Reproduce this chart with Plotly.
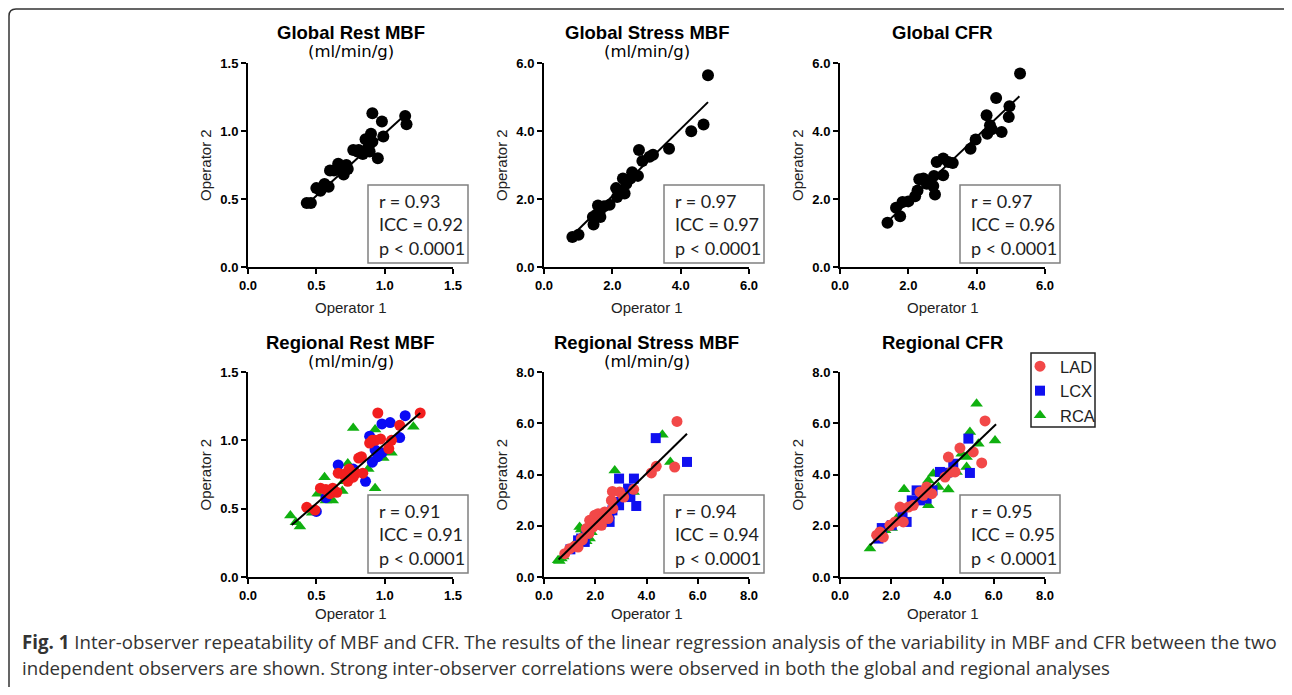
import plotly.graph_objects as go

W, H = 1292, 695          # target picture size
PAGE_MARGIN = 8           # default body margin of the html page
FW, FH = W - 2 * PAGE_MARGIN, H - 2 * PAGE_MARGIN

# ---------------- data ----------------
# Global Rest MBF (ml/min/g)
g_rest_x = [0.43, 0.46, 0.50, 0.53, 0.54, 0.56, 0.59, 0.60, 0.63, 0.65, 0.66, 0.69, 0.70, 0.72, 0.73,
            0.77, 0.80, 0.81, 0.84, 0.86, 0.88, 0.89, 0.90, 0.91, 0.91, 0.95, 0.98, 0.99, 1.15, 1.16]
g_rest_y = [0.47, 0.47, 0.58, 0.56, 0.58, 0.61, 0.59, 0.71, 0.71, 0.72, 0.76, 0.72, 0.68, 0.75, 0.72,
            0.86, 0.85, 0.86, 0.83, 0.94, 0.88, 0.85, 0.98, 0.92, 1.13, 0.80, 1.07, 0.96, 1.11, 1.05]
g_rest_fit_x = [0.42, 1.15]
g_rest_fit_y = [0.45, 1.12]

# Global Stress MBF (ml/min/g)
g_stress_x = [0.83, 1.01, 1.43, 1.45, 1.53, 1.58, 1.63, 1.65, 1.76, 1.92, 2.11, 2.14, 2.21, 2.36, 2.31,
              2.41, 2.53, 2.58, 2.75, 2.78, 2.88, 3.09, 3.19, 3.66, 4.31, 4.67, 4.80]
g_stress_y = [0.88, 0.95, 1.47, 1.25, 1.54, 1.81, 1.62, 1.47, 1.79, 1.83, 2.32, 2.06, 2.23, 2.16, 2.60,
              2.45, 2.60, 2.79, 2.68, 3.44, 3.12, 3.24, 3.30, 3.48, 3.99, 4.19, 5.64]
g_stress_fit_x = [0.88, 4.80]
g_stress_fit_y = [0.98, 4.85]

# Global CFR
g_cfr_x = [1.39, 1.64, 1.76, 1.83, 2.00, 2.20, 2.27, 2.32, 2.44, 2.54, 2.73, 2.78, 2.75, 2.83, 3.02,
           3.02, 3.17, 3.30, 3.82, 3.97, 4.29, 4.31, 4.39, 4.44, 4.57, 4.73, 4.96, 4.94, 5.27]
g_cfr_y = [1.30, 1.74, 1.49, 1.91, 1.93, 2.08, 2.25, 2.58, 2.60, 2.45, 2.38, 2.13, 2.68, 3.09, 3.19,
           2.70, 3.09, 3.06, 3.48, 3.75, 4.46, 3.92, 4.17, 4.05, 4.97, 3.97, 4.73, 4.41, 5.69]
g_cfr_fit_x = [1.46, 5.25]
g_cfr_fit_y = [1.40, 5.02]

# Regional Rest MBF
r_rest_lad_x = [0.43, 0.49, 0.53, 0.57, 0.60, 0.62, 0.65, 0.66, 0.70, 0.72, 0.73, 0.74, 0.77, 0.79,
                0.81, 0.83, 0.84, 0.89, 0.91, 0.93, 0.95, 0.97, 1.03, 1.05, 1.11, 1.26]
r_rest_lad_y = [0.51, 0.49, 0.65, 0.64, 0.61, 0.65, 0.62, 0.76, 0.75, 0.76, 0.70, 0.79, 0.73, 0.76,
                0.87, 0.88, 0.76, 0.98, 1.00, 1.00, 1.20, 1.01, 0.94, 1.00, 1.11, 1.20]
r_rest_lcx_x = [0.50, 0.57, 0.66, 0.72, 0.77, 0.86, 0.89, 0.91, 0.93, 0.95, 0.98, 0.98, 1.04, 1.11, 1.15]
r_rest_lcx_y = [0.48, 0.58, 0.82, 0.75, 0.79, 0.70, 1.03, 0.84, 0.93, 0.88, 1.12, 0.91, 1.13, 1.02, 1.18]
r_rest_rca_x = [0.31, 0.35, 0.38, 0.47, 0.51, 0.56, 0.57, 0.62, 0.69, 0.70, 0.73, 0.77, 0.88, 0.93,
                0.93, 0.99, 1.05, 1.21]
r_rest_rca_y = [0.45, 0.40, 0.37, 0.47, 0.61, 0.73, 0.56, 0.56, 0.63, 0.70, 0.83, 1.09, 0.79, 1.08,
                0.65, 0.87, 0.91, 1.10]
r_rest_fit_x = [0.32, 1.26]
r_rest_fit_y = [0.38, 1.20]

# Regional Stress MBF
r_stress_lad_x = [0.81, 1.00, 1.20, 1.33, 1.46, 1.50, 1.65, 1.75, 1.78, 1.91, 1.98, 2.00, 2.11, 2.24,
                  2.30, 2.37, 2.45, 2.50, 2.63, 2.67, 2.69, 2.95, 3.11, 3.50, 4.19, 4.38, 5.10, 5.19]
r_stress_lad_y = [0.91, 1.10, 1.20, 1.17, 1.50, 1.45, 1.89, 1.70, 2.21, 1.95, 2.41, 2.10, 2.47, 2.02,
                  2.35, 2.54, 2.50, 2.28, 2.99, 3.34, 2.67, 3.32, 3.12, 3.42, 4.06, 4.32, 4.29, 6.07]
r_stress_lcx_x = [1.03, 1.33, 1.45, 1.55, 1.59, 1.65, 2.20, 2.40, 2.55, 2.56, 2.67, 2.82, 2.93, 2.93,
                  3.28, 3.37, 3.51, 3.60, 4.36, 5.58]
r_stress_lcx_y = [1.08, 1.43, 1.50, 1.45, 1.37, 1.69, 2.05, 2.30, 2.45, 2.15, 2.60, 2.93, 2.80, 3.84,
                  3.45, 3.12, 3.84, 2.77, 5.42, 4.49]
r_stress_rca_x = [0.55, 0.60, 0.68, 0.75, 1.20, 1.39, 1.45, 1.52, 1.55, 1.65, 1.78, 1.85, 2.05, 2.76,
                  3.50, 4.62, 4.93]
r_stress_rca_y = [0.65, 0.62, 0.72, 0.80, 1.30, 1.95, 1.85, 1.30, 1.70, 1.40, 1.50, 1.75, 2.00, 4.16,
                  3.32, 5.55, 4.49]
r_stress_fit_x = [0.57, 5.58]
r_stress_fit_y = [0.68, 5.59]

# Regional CFR
r_cfr_lad_x = [1.43, 1.56, 1.69, 1.95, 2.15, 2.34, 2.47, 2.67, 2.86, 3.12, 3.25, 3.38, 3.58, 4.10,
               4.23, 4.36, 4.49, 4.68, 5.20, 5.53, 5.66]
r_cfr_lad_y = [1.63, 1.76, 1.56, 2.02, 2.15, 2.73, 2.15, 2.73, 2.80, 3.32, 3.19, 3.51, 3.25, 3.90,
               4.68, 4.10, 4.10, 5.03, 4.88, 4.45, 6.09]
r_cfr_lcx_x = [1.50, 1.63, 2.02, 2.44, 2.60, 2.80, 2.99, 3.12, 3.38, 3.61, 3.90, 4.16, 4.42, 5.01, 5.07]
r_cfr_lcx_y = [1.50, 1.91, 2.02, 2.41, 2.15, 2.99, 3.38, 2.99, 3.06, 3.38, 4.10, 4.07, 4.42, 5.40, 4.06]
r_cfr_rca_x = [1.17, 1.76, 2.02, 2.21, 2.50, 3.45, 3.45, 3.64, 3.84, 4.06, 4.23, 4.55, 4.75, 4.94,
               4.94, 5.07, 5.33, 5.40, 6.05]
r_cfr_rca_y = [1.11, 1.82, 1.91, 2.28, 3.42, 3.77, 2.80, 4.03, 3.51, 4.03, 3.41, 4.10, 4.81, 4.29,
               4.68, 5.66, 6.76, 5.20, 5.33]
r_cfr_fit_x = [1.17, 6.09]
r_cfr_fit_y = [1.24, 5.96]

panel_titles = ["Global Rest MBF", "Global Stress MBF", "Global CFR",
                "Regional Rest MBF", "Regional Stress MBF", "Regional CFR"]
panel_units = ["(ml/min/g)", "(ml/min/g)", "", "(ml/min/g)", "(ml/min/g)", ""]
axis_max = [1.5, 6.0, 6.0, 1.5, 8.0, 8.0]
axis_dtick = [0.5, 2.0, 2.0, 0.5, 2.0, 2.0]
stats_r = ["0.93", "0.97", "0.97", "0.91", "0.94", "0.95"]
stats_icc = ["0.92", "0.97", "0.96", "0.91", "0.94", "0.95"]
stats_p = ["0.0001"] * 6
artery_names = ["LAD", "LCX", "RCA"]
x_title = "Operator 1"
y_title = "Operator 2"
caption_1 = ("<b>Fig. 1</b> Inter-observer repeatability of MBF and CFR. The results of the linear "
             "regression analysis of the variability in MBF and CFR between the two")
caption_2 = ("independent observers are shown. Strong inter-observer correlations were observed in "
             "both the global and regional analyses")

# ---------------- layout helpers (picture pixels -> paper fraction) ----------------
def px(x):
    return (x - PAGE_MARGIN) / FW


def py(y):
    return 1 - (y - PAGE_MARGIN) / FH


col_px = [(248, 453), (544, 749), (840, 1045)]
row_px = [(63, 267), (372, 577)]
xtitle_gap = [40, 36]

fig = go.Figure()

global_sets = [(g_rest_x, g_rest_y, g_rest_fit_x, g_rest_fit_y),
               (g_stress_x, g_stress_y, g_stress_fit_x, g_stress_fit_y),
               (g_cfr_x, g_cfr_y, g_cfr_fit_x, g_cfr_fit_y)]
regional_sets = [
    ([(r_rest_lad_x, r_rest_lad_y), (r_rest_lcx_x, r_rest_lcx_y), (r_rest_rca_x, r_rest_rca_y)],
     r_rest_fit_x, r_rest_fit_y),
    ([(r_stress_lad_x, r_stress_lad_y), (r_stress_lcx_x, r_stress_lcx_y), (r_stress_rca_x, r_stress_rca_y)],
     r_stress_fit_x, r_stress_fit_y),
    ([(r_cfr_lad_x, r_cfr_lad_y), (r_cfr_lcx_x, r_cfr_lcx_y), (r_cfr_rca_x, r_cfr_rca_y)],
     r_cfr_fit_x, r_cfr_fit_y),
]

colors = {"LAD": "#F24848", "LCX": "#1010F0", "RCA": "#10B010"}
symbols = {"LAD": "circle", "LCX": "square", "RCA": "triangle-up"}
sizes = {"LAD": 11, "LCX": 10, "RCA": 11}

# global panels
for i, (xs, ys, fx, fy) in enumerate(global_sets):
    ax = str(i + 1)
    fig.add_trace(go.Scatter(x=xs, y=ys, mode="markers", xaxis="x" + ax, yaxis="y" + ax,
                             marker=dict(color="black", size=12, symbol="circle"), showlegend=False))
    fig.add_trace(go.Scatter(x=fx, y=fy, mode="lines", xaxis="x" + ax, yaxis="y" + ax,
                             line=dict(color="black", width=2), showlegend=False))

# regional panels
for i, (series, fx, fy) in enumerate(regional_sets):
    ax = str(i + 4)
    for k in [2, 1, 0]:
        name = artery_names[k]
        xs, ys = series[k]
        sym = symbols[name]
        col = colors[name]
        if i == 0 and name == "LCX":
            sym = "circle"
            col = "#0A0AF5"
        if i == 0 and name == "LAD":
            col = "#F21E1E"
        fig.add_trace(go.Scatter(x=xs, y=ys, mode="markers", name=name, xaxis="x" + ax, yaxis="y" + ax,
                                 legendgroup=name, legendrank=k + 1, showlegend=(i == 2),
                                 marker=dict(color=col, size=sizes[name] if sym != "circle" else 11,
                                             symbol=sym)))
    fig.add_trace(go.Scatter(x=fx, y=fy, mode="lines", xaxis="x" + ax, yaxis="y" + ax,
                             line=dict(color="black", width=2), showlegend=False))

tick_font = dict(family="Liberation Sans, Arial, sans-serif", size=13, color="black", weight="bold")
layout = {}
annotations = []
shapes = []
for idx in range(6):
    r, c = divmod(idx, 3)
    x0, x1 = col_px[c]
    y0, y1 = row_px[r]
    n = "" if idx == 0 else str(idx + 1)
    common = dict(range=[0, axis_max[idx]], tick0=0, dtick=axis_dtick[idx], tickformat=".1f",
                  showline=True, linewidth=2, linecolor="black", ticks="outside", ticklen=5,
                  tickwidth=2, tickcolor="black", showgrid=False, zeroline=False,
                  tickfont=tick_font, fixedrange=True, automargin=False)
    layout["xaxis" + n] = dict(domain=[px(x0), px(x1)], anchor="y" + str(idx + 1), **common)
    layout["yaxis" + n] = dict(domain=[py(y1), py(y0)], anchor="x" + str(idx + 1), **common)

    cx = (x0 + x1) / 2
    annotations.append(dict(text=panel_titles[idx], x=px(cx), y=py(y0 - 30), xref="paper", yref="paper",
                            xanchor="center", yanchor="middle", showarrow=False,
                            font=dict(family="Liberation Sans, Arial, sans-serif", size=18.5,
                                      color="black", weight="bold")))
    if panel_units[idx]:
        annotations.append(dict(text=panel_units[idx], x=px(cx), y=py(y0 - 11), xref="paper", yref="paper",
                                xanchor="center", yanchor="middle", showarrow=False,
                                font=dict(family="DejaVu Sans, sans-serif", size=16.5,
                                          color="black")))
    annotations.append(dict(text=x_title, x=px(cx), y=py(y1 + xtitle_gap[r]), xref="paper", yref="paper",
                            xanchor="center", yanchor="middle", showarrow=False,
                            font=dict(family="Liberation Sans, Arial, sans-serif", size=15, color="#222")))
    annotations.append(dict(text=y_title, x=px(x0 - 43), y=py((y0 + y1) / 2), xref="paper", yref="paper",
                            xanchor="center", yanchor="middle", showarrow=False, textangle=-90,
                            font=dict(family="Liberation Sans, Arial, sans-serif", size=15, color="#222")))
    # stats box
    bx0 = x0 + 120
    bx1 = bx0 + 100
    by1 = y1 - 4
    by0 = by1 - 78
    shapes.append(dict(type="rect", xref="paper", yref="paper", x0=px(bx0), x1=px(bx1),
                       y0=py(by1), y1=py(by0), line=dict(color="#808080", width=1.5),
                       fillcolor="white", layer="above"))
    annotations.append(dict(text="r = %s<br>ICC = %s<br>p &lt; %s" % (stats_r[idx], stats_icc[idx], stats_p[idx]),
                            x=px(bx0 + 9), y=py((by0 + by1) / 2), xref="paper", yref="paper",
                            xanchor="left", yanchor="middle", align="left", showarrow=False,
                            font=dict(family="Lato, Carlito, sans-serif", size=18, color="#222")))

# legend box drawn as a shape, legend itself transparent
shapes.append(dict(type="rect", xref="paper", yref="paper", x0=px(1031), x1=px(1095),
                   y0=py(427), y1=py(353), line=dict(color="#222222", width=1.5),
                   fillcolor="white", layer="below"))

# outer frame with rounded corners (partly beyond the canvas)
rad = 7
fx0, fy0, fx1, fy1 = 9, 9, 1291, 720
frame_path = ("M {a},{b} L {a},{c} Q {a},{d} {e},{d} L {f},{d} Q {g},{d} {g},{c} L {g},{b}").format(
    a=px(fx0), b=py(fy1), c=py(fy0 + rad), d=py(fy0), e=px(fx0 + rad), f=px(fx1 - rad), g=px(fx1))
shapes.append(dict(type="path", xref="paper", yref="paper", path=frame_path,
                   line=dict(color="#333333", width=1.5)))

annotations.append(dict(text=caption_1, x=px(20), y=py(641), xref="paper", yref="paper",
                        xanchor="left", yanchor="middle", showarrow=False,
                        font=dict(family="Open Sans, sans-serif", size=18.7, color="#333333")))
annotations.append(dict(text=caption_2, x=px(20), y=py(667), xref="paper", yref="paper",
                        xanchor="left", yanchor="middle", showarrow=False,
                        font=dict(family="Open Sans, sans-serif", size=18.7, color="#333333")))

fig.update_layout(
    width=FW, height=FH, margin=dict(l=0, r=0, t=0, b=0, pad=0, autoexpand=False),
    paper_bgcolor="white", plot_bgcolor="white",
    showlegend=True,
    legend=dict(x=px(1020), y=py(349), xanchor="left", yanchor="top",
                borderwidth=0, bgcolor="rgba(0,0,0,0)",
                font=dict(family="Liberation Sans, Arial, sans-serif", size=16.5, color="#222"),
                traceorder="normal", itemsizing="trace", tracegroupgap=0),
    annotations=annotations, shapes=shapes,
    **layout,
)

fig.write_html("out.html", config={"displayModeBar": False})
